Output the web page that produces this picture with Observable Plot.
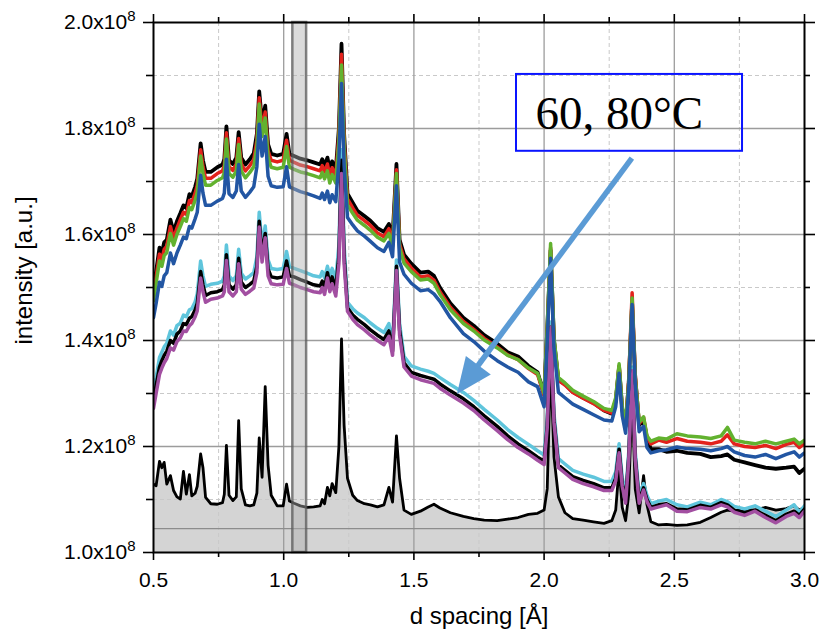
<!DOCTYPE html>
<html>
<head>
<meta charset="utf-8">
<script src="https://cdn.jsdelivr.net/npm/d3@7"></script>
<script src="https://cdn.jsdelivr.net/npm/@observablehq/plot@0.6"></script>
<style>
  html, body { margin: 0; padding: 0; background: #fff; }
  #chart svg { display: block; }
</style>
</head>
<body>
<div id="chart"></div>
<script>
// ---- data (intensity in units of 10^8 a.u.) ----
const dSpacing = [
  0.50, 0.51, 0.523, 0.532, 0.541, 0.551, 0.565, 0.577, 0.59, 0.603,
  0.615, 0.626, 0.638, 0.647, 0.66, 0.668, 0.681, 0.69, 0.70, 0.72,
  0.745, 0.765, 0.772, 0.78, 0.79, 0.805, 0.818, 0.827, 0.837, 0.853,
  0.87, 0.885, 0.897, 0.906, 0.917, 0.929, 0.94, 0.952, 0.975, 0.998,
  1.011, 1.022, 1.04, 1.064, 1.09, 1.115, 1.14, 1.148, 1.157, 1.168,
  1.177, 1.186, 1.2, 1.212, 1.222, 1.232, 1.245, 1.265, 1.283, 1.31,
  1.333, 1.36, 1.385, 1.404, 1.418, 1.433, 1.445, 1.462, 1.49, 1.525,
  1.555, 1.577, 1.6, 1.64, 1.69, 1.73, 1.77, 1.82, 1.86, 1.9,
  1.94, 1.975, 2.0, 2.012, 2.025, 2.038, 2.055, 2.08, 2.11, 2.15,
  2.19, 2.23, 2.26, 2.275, 2.288, 2.3, 2.313, 2.325, 2.338, 2.35,
  2.365, 2.382, 2.395, 2.41, 2.44, 2.47, 2.51, 2.55, 2.6, 2.64,
  2.68, 2.704, 2.73, 2.77, 2.81, 2.85, 2.89, 2.93, 2.96, 2.98, 3.0
];

const bottomBlack = [
  1.129, 1.126, 1.172, 1.160, 1.170, 1.129, 1.145, 1.117, 1.105, 1.101,
  1.153, 1.110, 1.147, 1.107, 1.112, 1.125, 1.186, 1.160, 1.104, 1.092,
  1.091, 1.094, 1.110, 1.202, 1.108, 1.098, 1.105, 1.249, 1.120, 1.090,
  1.088, 1.090, 1.112, 1.216, 1.142, 1.313, 1.165, 1.108, 1.088, 1.088,
  1.129, 1.097, 1.093, 1.088, 1.085, 1.086, 1.088, 1.100, 1.092, 1.123,
  1.107, 1.130, 1.113, 1.200, 1.403, 1.240, 1.140, 1.108, 1.098, 1.092,
  1.090, 1.086, 1.090, 1.123, 1.095, 1.220, 1.140, 1.080, 1.072, 1.078,
  1.086, 1.091, 1.084, 1.075, 1.068, 1.064, 1.061, 1.060, 1.063, 1.066,
  1.072, 1.074, 1.080, 1.120, 1.360, 1.180, 1.105, 1.075, 1.064, 1.061,
  1.058, 1.055, 1.060, 1.080, 1.160, 1.085, 1.060, 1.110, 1.300, 1.120,
  1.075, 1.145, 1.090, 1.058, 1.052, 1.053, 1.051, 1.052, 1.057, 1.066,
  1.076, 1.080, 1.078, 1.082, 1.080, 1.085, 1.080, 1.083, 1.088, 1.080, 1.085
];

const midCyan = [
  1.305, 1.330, 1.368, 1.378, 1.388, 1.395, 1.418, 1.410, 1.428, 1.433,
  1.448, 1.445, 1.458, 1.460, 1.473, 1.488, 1.550, 1.522, 1.502, 1.506,
  1.508, 1.512, 1.522, 1.580, 1.522, 1.513, 1.522, 1.572, 1.527, 1.516,
  1.522, 1.528, 1.558, 1.642, 1.578, 1.616, 1.552, 1.536, 1.534, 1.536,
  1.568, 1.540, 1.536, 1.532, 1.527, 1.522, 1.520, 1.530, 1.518, 1.540,
  1.522, 1.536, 1.515, 1.580, 1.760, 1.580, 1.472, 1.460, 1.452, 1.443,
  1.433, 1.423, 1.415, 1.432, 1.392, 1.552, 1.432, 1.370, 1.352, 1.346,
  1.342, 1.338, 1.330, 1.317, 1.302, 1.287, 1.270, 1.250, 1.232, 1.217,
  1.204, 1.192, 1.184, 1.255, 1.435, 1.262, 1.177, 1.167, 1.155, 1.148,
  1.142, 1.134, 1.134, 1.152, 1.205, 1.142, 1.108, 1.190, 1.350, 1.190,
  1.108, 1.130, 1.108, 1.092, 1.097, 1.100, 1.090, 1.086, 1.095, 1.090,
  1.100, 1.096, 1.087, 1.082, 1.088, 1.078, 1.068, 1.080, 1.090, 1.076, 1.088
];

const midBlack = [
  1.287, 1.315, 1.350, 1.362, 1.372, 1.380, 1.400, 1.395, 1.412, 1.418,
  1.432, 1.430, 1.442, 1.445, 1.458, 1.470, 1.530, 1.505, 1.485, 1.490,
  1.492, 1.496, 1.505, 1.562, 1.505, 1.497, 1.505, 1.555, 1.510, 1.500,
  1.506, 1.512, 1.540, 1.625, 1.560, 1.602, 1.535, 1.520, 1.518, 1.520,
  1.550, 1.522, 1.520, 1.515, 1.510, 1.505, 1.503, 1.512, 1.500, 1.528,
  1.505, 1.520, 1.498, 1.560, 1.740, 1.560, 1.462, 1.448, 1.440, 1.430,
  1.420, 1.410, 1.402, 1.418, 1.380, 1.540, 1.420, 1.358, 1.340, 1.334,
  1.330, 1.327, 1.318, 1.305, 1.290, 1.275, 1.258, 1.238, 1.220, 1.205,
  1.192, 1.180, 1.172, 1.240, 1.425, 1.250, 1.165, 1.155, 1.143, 1.136,
  1.130, 1.122, 1.122, 1.140, 1.195, 1.130, 1.098, 1.180, 1.340, 1.180,
  1.098, 1.122, 1.100, 1.085, 1.090, 1.092, 1.082, 1.080, 1.089, 1.085,
  1.094, 1.090, 1.080, 1.075, 1.080, 1.070, 1.060, 1.072, 1.078, 1.070, 1.082
];

const midMagenta = [
  1.272, 1.300, 1.336, 1.348, 1.358, 1.366, 1.386, 1.382, 1.398, 1.405,
  1.418, 1.417, 1.428, 1.432, 1.445, 1.456, 1.518, 1.492, 1.472, 1.478,
  1.480, 1.484, 1.492, 1.551, 1.492, 1.484, 1.492, 1.545, 1.497, 1.487,
  1.493, 1.499, 1.528, 1.614, 1.548, 1.594, 1.522, 1.507, 1.505, 1.506,
  1.536, 1.508, 1.505, 1.500, 1.496, 1.492, 1.490, 1.500, 1.487, 1.518,
  1.492, 1.507, 1.484, 1.545, 1.715, 1.545, 1.455, 1.440, 1.430, 1.420,
  1.410, 1.400, 1.392, 1.408, 1.372, 1.532, 1.410, 1.350, 1.333, 1.326,
  1.322, 1.319, 1.310, 1.297, 1.282, 1.268, 1.250, 1.230, 1.213, 1.198,
  1.186, 1.174, 1.166, 1.235, 1.425, 1.245, 1.160, 1.150, 1.138, 1.130,
  1.124, 1.117, 1.117, 1.135, 1.188, 1.125, 1.093, 1.175, 1.343, 1.175,
  1.093, 1.118, 1.096, 1.082, 1.086, 1.090, 1.078, 1.077, 1.085, 1.082,
  1.090, 1.086, 1.076, 1.070, 1.078, 1.066, 1.056, 1.068, 1.074, 1.066, 1.078
];

const topBlack = [
  1.494, 1.530, 1.575, 1.565, 1.585, 1.590, 1.628, 1.605, 1.625, 1.640,
  1.655, 1.650, 1.676, 1.672, 1.690, 1.705, 1.772, 1.740, 1.718, 1.718,
  1.727, 1.732, 1.742, 1.804, 1.740, 1.733, 1.745, 1.793, 1.745, 1.732,
  1.742, 1.753, 1.790, 1.870, 1.810, 1.843, 1.770, 1.752, 1.749, 1.752,
  1.790, 1.752, 1.748, 1.743, 1.740, 1.736, 1.732, 1.742, 1.730, 1.745,
  1.722, 1.738, 1.722, 1.800, 1.960, 1.790, 1.677, 1.660, 1.645, 1.635,
  1.626, 1.612, 1.605, 1.620, 1.594, 1.733, 1.590, 1.562, 1.545, 1.528,
  1.530, 1.522, 1.500, 1.470, 1.443, 1.428, 1.410, 1.394, 1.378, 1.370,
  1.352, 1.340, 1.298, 1.420, 1.570, 1.400, 1.325, 1.318, 1.303, 1.292,
  1.282, 1.268, 1.262, 1.285, 1.350, 1.270, 1.238, 1.320, 1.470, 1.330,
  1.240, 1.250, 1.215, 1.195, 1.195, 1.190, 1.192, 1.188, 1.186, 1.180,
  1.182, 1.185, 1.175, 1.170, 1.165, 1.160, 1.158, 1.160, 1.162, 1.150, 1.158
];

const topRed = [
  1.485, 1.520, 1.563, 1.553, 1.572, 1.578, 1.615, 1.593, 1.612, 1.628,
  1.642, 1.638, 1.664, 1.660, 1.678, 1.693, 1.760, 1.728, 1.706, 1.706,
  1.715, 1.720, 1.730, 1.792, 1.728, 1.721, 1.733, 1.781, 1.733, 1.720,
  1.730, 1.741, 1.778, 1.858, 1.798, 1.831, 1.758, 1.740, 1.737, 1.740,
  1.778, 1.740, 1.736, 1.731, 1.728, 1.724, 1.720, 1.730, 1.718, 1.733,
  1.710, 1.726, 1.710, 1.788, 1.940, 1.778, 1.667, 1.650, 1.636, 1.626,
  1.617, 1.603, 1.596, 1.611, 1.585, 1.722, 1.582, 1.554, 1.537, 1.520,
  1.522, 1.514, 1.492, 1.463, 1.436, 1.421, 1.404, 1.388, 1.373, 1.364,
  1.347, 1.336, 1.296, 1.418, 1.575, 1.400, 1.325, 1.316, 1.302, 1.291,
  1.281, 1.268, 1.263, 1.288, 1.352, 1.272, 1.240, 1.325, 1.490, 1.335,
  1.243, 1.255, 1.218, 1.205, 1.212, 1.208, 1.215, 1.210, 1.208, 1.205,
  1.210, 1.222, 1.205, 1.200, 1.198, 1.202, 1.196, 1.204, 1.208, 1.198, 1.205
];

const topGreen = [
  1.475, 1.508, 1.550, 1.540, 1.560, 1.566, 1.602, 1.580, 1.600, 1.615,
  1.630, 1.625, 1.651, 1.647, 1.665, 1.680, 1.748, 1.715, 1.693, 1.693,
  1.702, 1.707, 1.717, 1.780, 1.715, 1.708, 1.720, 1.770, 1.720, 1.707,
  1.717, 1.728, 1.765, 1.846, 1.785, 1.820, 1.745, 1.727, 1.724, 1.727,
  1.766, 1.727, 1.723, 1.718, 1.715, 1.711, 1.707, 1.717, 1.705, 1.720,
  1.697, 1.713, 1.697, 1.775, 1.920, 1.765, 1.656, 1.640, 1.627, 1.617,
  1.608, 1.595, 1.588, 1.602, 1.577, 1.715, 1.575, 1.546, 1.530, 1.514,
  1.516, 1.508, 1.487, 1.458, 1.432, 1.418, 1.401, 1.386, 1.372, 1.364,
  1.348, 1.338, 1.300, 1.425, 1.583, 1.405, 1.330, 1.320, 1.306, 1.295,
  1.285, 1.272, 1.268, 1.292, 1.356, 1.276, 1.243, 1.320, 1.480, 1.330,
  1.246, 1.256, 1.220, 1.210, 1.216, 1.214, 1.224, 1.220, 1.218, 1.215,
  1.220, 1.236, 1.212, 1.208, 1.205, 1.210, 1.205, 1.210, 1.214, 1.205, 1.212
];

const topBlue = [
  1.443, 1.470, 1.510, 1.502, 1.522, 1.528, 1.565, 1.545, 1.565, 1.580,
  1.595, 1.592, 1.615, 1.612, 1.630, 1.642, 1.712, 1.678, 1.655, 1.655,
  1.663, 1.668, 1.678, 1.742, 1.677, 1.670, 1.682, 1.732, 1.682, 1.670,
  1.680, 1.690, 1.728, 1.808, 1.748, 1.785, 1.710, 1.692, 1.689, 1.690,
  1.728, 1.690, 1.686, 1.681, 1.677, 1.673, 1.668, 1.678, 1.666, 1.682,
  1.660, 1.675, 1.662, 1.740, 1.885, 1.730, 1.632, 1.618, 1.607, 1.597,
  1.587, 1.575, 1.568, 1.585, 1.558, 1.692, 1.548, 1.525, 1.508, 1.494,
  1.496, 1.488, 1.474, 1.443, 1.413, 1.398, 1.380, 1.362, 1.350, 1.340,
  1.322, 1.313, 1.275, 1.400, 1.555, 1.385, 1.302, 1.292, 1.280, 1.270,
  1.260, 1.250, 1.248, 1.275, 1.338, 1.258, 1.225, 1.310, 1.468, 1.318,
  1.228, 1.238, 1.198, 1.188, 1.192, 1.194, 1.199, 1.196, 1.195, 1.192,
  1.196, 1.200, 1.190, 1.183, 1.180, 1.185, 1.177, 1.185, 1.190, 1.180, 1.188
];

// axis ticks
const xMajor = [0.5, 1.0, 1.5, 2.0, 2.5, 3.0];
const xMinor = [0.75, 1.25, 1.75, 2.25, 2.75];
const yMajor = [1.0, 1.2, 1.4, 1.6, 1.8, 2.0];
const yMinor = [1.1, 1.3, 1.5, 1.7, 1.9];
const xGridMajor = [1.0, 1.5, 2.0, 2.5];
const yGridMajor = [1.2, 1.4, 1.6, 1.8];
const baselineLevel = [1.045];
const bandRange = [1.035, 1.088];

// annotation
const noteText = "60, 80°C";
const noteBox = { x1: 1.894, x2: 2.762, y1: 1.757, y2: 1.902 };
const notePos = { x: 1.967, y: 1.80 };
const arrowFrom = [2.339, 1.743];
const arrowTo = [1.667, 1.298];

// ---- chart ----
const rows = vals => dSpacing.map((d, i) => ({ d, v: vals[i] }));
const line = (vals, color, w) =>
  Plot.line(rows(vals), { x: "d", y: "v", stroke: color, strokeWidth: w, strokeLinejoin: "round", clip: true });

const chart = Plot.plot({
  width: 823,
  height: 633,
  marginLeft: 153,
  marginRight: 19,
  marginTop: 22,
  marginBottom: 81,
  x: { domain: [0.5, 3.0] },
  y: { domain: [1.0, 2.0] },
  style: { fontFamily: "'Liberation Sans', Arial, sans-serif", background: "#fff", color: "#000" },
  marks: [
    Plot.areaY(rows(bottomBlack), { x: "d", y1: 1.0, y2: "v", fill: "#d4d4d4" }),
    Plot.ruleX(xMinor, { stroke: "#c9c9c9", strokeDasharray: "4,3", strokeWidth: 1 }),
    Plot.ruleY(yMinor, { stroke: "#c9c9c9", strokeDasharray: "4,3", strokeWidth: 1 }),
    Plot.ruleX(xGridMajor, { stroke: "#9c9c9c", strokeWidth: 1.3 }),
    Plot.ruleY(yGridMajor, { stroke: "#9c9c9c", strokeWidth: 1.3 }),
    Plot.ruleY(baselineLevel, { stroke: "#8c8c8c", strokeWidth: 1.2 }),
    line(bottomBlack, "#000000", 2.8),
    line(midCyan, "#5fc5dc", 3.5),
    line(midBlack, "#000000", 3.5),
    line(midMagenta, "#a24fa1", 3.5),
    line(topBlack, "#000000", 3.8),
    line(topRed, "#e3221c", 3.5),
    line(topGreen, "#62b22f", 3.5),
    line(topBlue, "#2256a3", 3.5),
    Plot.rect([bandRange], {
      x1: d => d[0], x2: d => d[1], y1: 1.0, y2: 2.0,
      fill: "#b0b0b0", fillOpacity: 0.45, stroke: "#5a5a5a", strokeOpacity: 0.75, strokeWidth: 2.5
    }),
    Plot.frame({ stroke: "#000", strokeWidth: 2 }),
    Plot.axisX({ ticks: xMajor, tickSize: 8, tickPadding: 12, tickFormat: d => d.toFixed(1), fontSize: 21, strokeWidth: 1.6, label: null }),
    Plot.axisX({ ticks: xMinor, tickSize: 5, tickFormat: () => "", strokeWidth: 1.6, label: null }),
    Plot.axisX({ anchor: "top", ticks: xMajor, tickSize: 9, tickFormat: () => "", strokeWidth: 1.6, label: null }),
    Plot.axisX({ anchor: "top", ticks: xMinor, tickSize: 6, tickFormat: () => "", strokeWidth: 1.6, label: null }),
    Plot.axisY({ ticks: yMajor, tickSize: 10, tickPadding: 8, tickFormat: d => d.toFixed(1) + "x10", fontSize: 21, strokeWidth: 1.6, label: null }),
    Plot.axisY({ ticks: yMinor, tickSize: 7, tickFormat: () => "", strokeWidth: 1.6, label: null }),
    Plot.axisY({ anchor: "right", ticks: yMajor, tickSize: 10, tickFormat: () => "", strokeWidth: 1.6, label: null }),
    Plot.axisY({ anchor: "right", ticks: yMinor, tickSize: 5, tickFormat: () => "", strokeWidth: 1.6, label: null }),
    Plot.text(["d spacing [Å]"], { frameAnchor: "bottom", dy: 71, textAnchor: "middle", lineAnchor: "bottom", fontSize: 24, fill: "#000" }),
    Plot.text(["intensity [a.u.]"], { frameAnchor: "left", rotate: -90, dx: -129, dy: -17, textAnchor: "middle", lineAnchor: "middle", fontSize: 24, fill: "#000" }),
    Plot.rect([noteBox], { x1: "x1", x2: "x2", y1: "y1", y2: "y2", fill: "none", stroke: "#0a14ff", strokeWidth: 2 }),
    Plot.text([noteText], { x: notePos.x, y: notePos.y, textAnchor: "start", lineAnchor: "bottom", fontSize: 47, fontFamily: "'Liberation Serif', 'Times New Roman', serif", fill: "#000" })
  ]
});

// superscript exponent on y tick labels
d3.select(chart).selectAll('g[aria-label="y-axis tick label"] text').each(function () {
  const t = d3.select(this);
  if (t.text()) {
    t.append("tspan").attr("dy", "-0.55em").attr("font-size", "15px").text("8");
  }
});

// arrow (through the plot's scales)
const sx = chart.scale("x"), sy = chart.scale("y");
const p0 = [sx.apply(arrowFrom[0]), sy.apply(arrowFrom[1])];
const p1 = [sx.apply(arrowTo[0]), sy.apply(arrowTo[1])];
const len = Math.hypot(p1[0] - p0[0], p1[1] - p0[1]);
const ux = (p1[0] - p0[0]) / len, uy = (p1[1] - p0[1]) / len;
const headLen = 36, headHalf = 15.5;
const base = [p1[0] - ux * headLen, p1[1] - uy * headLen];
const g = d3.select(chart).append("g").attr("aria-label", "arrow");
g.append("line")
  .attr("x1", p0[0]).attr("y1", p0[1])
  .attr("x2", base[0] + ux * 2).attr("y2", base[1] + uy * 2)
  .attr("stroke", "#5b9bd5").attr("stroke-width", 5.5);
g.append("polygon")
  .attr("points", [
    p1,
    [base[0] - uy * headHalf, base[1] + ux * headHalf],
    [base[0] + uy * headHalf, base[1] - ux * headHalf]
  ].map(p => p.join(",")).join(" "))
  .attr("fill", "#5b9bd5");

document.getElementById("chart").appendChild(chart);
</script>
</body>
</html>
